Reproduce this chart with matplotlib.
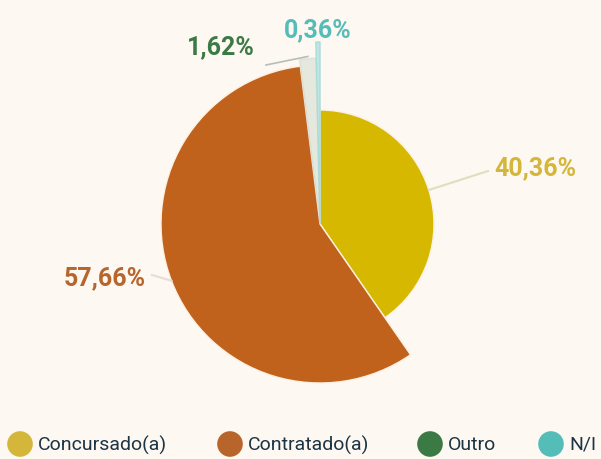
import matplotlib.pyplot as plt
from matplotlib.patches import Wedge
import numpy as np

# data
categorias = ["Concursado(a)", "Contratado(a)", "Outro", "N/I"]
valores = [40.36, 57.66, 1.62, 0.36]
rotulos = ["40,36%", "57,66%", "1,62%", "0,36%"]

# style
cores = ["#d6b800", "#c0621b", "#3b7a45", "#55bdb8"]
cores_leg = ["#d4b73a", "#b8652c", "#3b7a45", "#55bdb8"]
raios = [114, 159, 166, 182]
fundo = "#fdf8f1"

fig = plt.figure(figsize=(6.01, 4.60), dpi=100)
fig.patch.set_facecolor(fundo)
ax = fig.add_axes([0, 0, 1, 1])
ax.set_xlim(0, 601)
ax.set_ylim(0, 460)
ax.set_aspect("equal")
ax.axis("off")
ax.set_facecolor(fundo)

cx, cy = 320, 235
total = sum(valores)
ang = 90.0
meios = []
for i, v in enumerate(valores):
    span = v / total * 360
    t1, t2 = ang - span, ang
    if i == 2:
        w = Wedge((cx, cy), raios[i], t1, t2, facecolor=cores[i], alpha=0.12,
                  edgecolor="#9aa39c", linewidth=1.5)
    elif i == 3:
        w = Wedge((cx, cy), raios[i], t1, t2, facecolor="#bfe6e3",
                  edgecolor="#a9dcd8", linewidth=1)
    else:
        w = Wedge((cx, cy), raios[i], t1, t2, facecolor=cores[i],
                  edgecolor="#fdf1e4", linewidth=1)
    ax.add_patch(w)
    meios.append((t1 + t2) / 2)
    ang = t1

fonte = "Roboto"

# labels with leader lines
pos = [(535, 292), (105, 182), (221, 413), (318, 430)]
for i in range(4):
    a = np.deg2rad(meios[i])
    x0 = cx + raios[i] * np.cos(a)
    y0 = cy + raios[i] * np.sin(a)
    tx, ty = pos[i]
    if i == 0:
        ax.plot([x0, 488], [y0, ty - 4], color="#e2dcc0", lw=1.5)
    elif i == 1:
        ax.plot([x0, 152], [y0, ty + 2], color="#e8ddd2", lw=1.5)
    elif i == 2:
        ax.plot([x0, 266], [y0 + 2, 394], color="#b8bdb8", lw=1.2)
    ax.text(tx, ty, rotulos[i], color=cores_leg[i] if i < 2 else cores[i],
            fontsize=18, fontweight="bold", family=fonte,
            ha="center", va="center")

# legend
leg_x = [20, 230, 430, 551]
for i in range(4):
    ax.scatter(leg_x[i], 15, s=340, color=cores_leg[i], edgecolor="none")
    ax.text(leg_x[i] + 18, 15, categorias[i], fontsize=14, family=fonte,
            color="#1c3444", ha="left", va="center")

fig.savefig("out.png", dpi=100, facecolor=fundo)
